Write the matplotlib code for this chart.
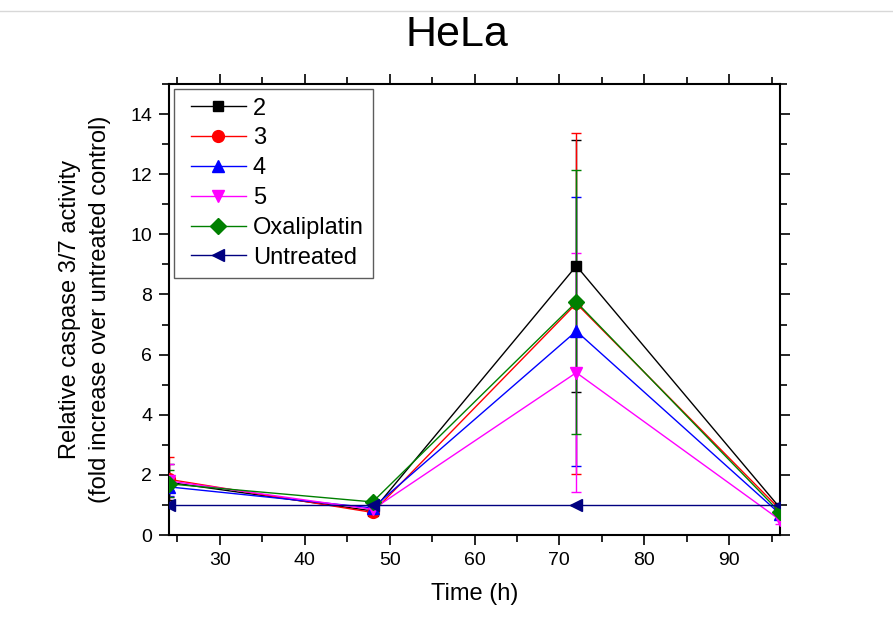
import matplotlib
matplotlib.use("Agg")
import matplotlib.pyplot as plt
from matplotlib.ticker import MultipleLocator
from matplotlib.lines import Line2D
from matplotlib.legend_handler import HandlerLine2D

plt.rcParams['font.family'] = ['Liberation Sans', 'DejaVu Sans']

time_h = [24, 48, 72, 96]

series_names = ["2", "3", "4", "5", "Oxaliplatin", "Untreated"]
vals_2 = [1.75, 0.80, 8.95, 0.90]
vals_3 = [1.85, 0.75, 7.70, 0.85]
vals_4 = [1.60, 0.90, 6.78, 0.70]
vals_5 = [1.80, 0.85, 5.40, 0.50]
vals_oxa = [1.70, 1.10, 7.75, 0.75]
vals_untreated = [1.00, 1.00, 1.00, 1.00]

err_2 = [0.60, 0.10, 4.20, 0.10]
err_3 = [0.75, 0.08, 5.67, 0.10]
err_4 = [0.30, 0.10, 4.47, 0.15]
err_5 = [0.55, 0.10, 3.98, 0.15]
err_oxa = [0.45, 0.10, 4.40, 0.15]
err_untreated = [0.0, 0.0, 0.0, 0.0]

values = [vals_2, vals_3, vals_4, vals_5, vals_oxa, vals_untreated]
errors = [err_2, err_3, err_4, err_5, err_oxa, err_untreated]
colors = ["black", "#ff0000", "#0000ff", "#ff00ff", "#008000", "#000080"]
markers = ["s", "o", "^", "v", "D", "<"]
msizes = [7.5, 8.5, 9, 9, 8, 9]

W, H = 893, 634
fig = plt.figure(figsize=(W / 100, H / 100), dpi=100)
ax = fig.add_axes([169 / W, 1 - 535 / H, (780 - 169) / W, (535 - 84) / H])

handles = []
for name, v, e, c, m, ms in zip(series_names, values, errors, colors, markers, msizes):
    ax.errorbar(time_h, v, yerr=e, fmt='none', ecolor=c, elinewidth=1.0,
                capsize=3.5, capthick=1.0, zorder=2)
    ln, = ax.plot(time_h, v, color=c, marker=m, markersize=ms, linewidth=1.0,
                  label=name, zorder=3)
    handles.append(ln)

ax.set_xlim(24, 96)
ax.set_ylim(0, 15)
ax.xaxis.set_minor_locator(MultipleLocator(5))
ax.yaxis.set_minor_locator(MultipleLocator(1))
ax.set_xticks([30, 40, 50, 60, 70, 80, 90])
ax.set_yticks([0, 2, 4, 6, 8, 10, 12, 14])
ax.tick_params(which='both', direction='out', top=True, right=True,
               labeltop=False, labelright=False, width=1.2)
ax.tick_params(which='major', length=7, labelsize=14, pad=5)
ax.tick_params(which='minor', length=5)
for s in ax.spines.values():
    s.set_linewidth(1.5)

ax.set_xlabel("Time (h)", fontsize=17, labelpad=10)
ax.set_ylabel("Relative caspase 3/7 activity\n(fold increase over untreated control)",
              fontsize=17, labelpad=14, linespacing=1.45)
fig.text(457 / W, 1 - 46 / H, "HeLa", fontsize=31, ha='center', va='baseline')

# thin border line across the top of the canvas
fig.add_artist(Line2D([0, 1], [1 - 11 / H, 1 - 11 / H], color="#d8d8d8",
                      linewidth=1.0, transform=fig.transFigure))

leg = ax.legend(handles=handles, loc="upper left", fontsize=17, frameon=True,
                fancybox=False, edgecolor="#333333", handlelength=2.67,
                handletextpad=0.3, borderaxespad=0.2, labelspacing=0.33,
                borderpad=0.38,
                handler_map={Line2D: HandlerLine2D(xpad=0.34)})
leg.get_frame().set_linewidth(1.0)

fig.savefig("out.png", dpi=100, facecolor="white")
